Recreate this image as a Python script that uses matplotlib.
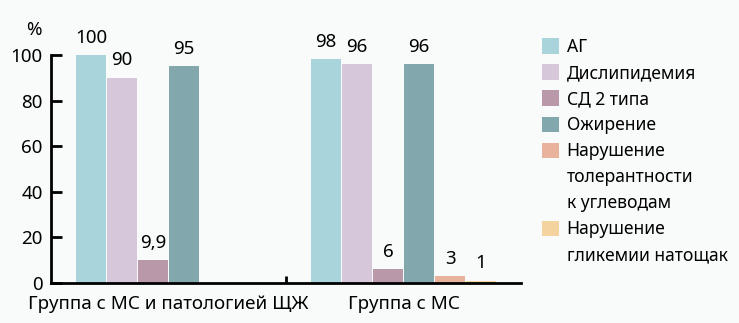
import numpy as np
import matplotlib.pyplot as plt
from matplotlib.ticker import FixedLocator
from matplotlib.patches import Rectangle

groups = ["Группа с МС и патологией ЩЖ", "Группа с МС"]
series = ["АГ", "Дислипидемия", "СД 2 типа", "Ожирение",
          "Нарушение\nтолерантности\nк углеводам", "Нарушение\nгликемии натощак"]
colors = ["#a9d4dc", "#d6c7db", "#b898a9", "#82a7ad", "#e8b29c", "#f5d39f"]
# rows = series, columns = groups (nan = no bar)
values = [
    [100, 98],
    [90, 96],
    [9.9, 6],
    [95, 96],
    [np.nan, 3],
    [np.nan, 1],
]

FS = 13.5
LFS = 12.6  # legend font size

plt.rcParams['font.family'] = ['Noto Sans', 'DejaVu Sans']
plt.rcParams['font.size'] = FS

fig = plt.figure(figsize=(7.39, 3.23), dpi=100)
fig.patch.set_facecolor('#f9fafa')
ax = fig.add_axes([0.069, 0.124, 0.636, 0.706])
ax.set_facecolor('none')

x = np.arange(len(groups))
step = 0.132
width = 0.124
for i, (name, vals, c) in enumerate(zip(series, values, colors)):
    off = (i - 2.5) * step
    bars = ax.bar(x + off, vals, width, color=c, label=name)
    labs = [("" if np.isnan(v) else f"{v:g}".replace(".", ",")) for v in vals]
    ax.bar_label(bars, labels=labs, padding=6, fontsize=FS, clip_on=False)

ax.set_xlim(-0.5, 1.5)
ax.set_ylim(0, 100)
ax.set_yticks([0, 20, 40, 60, 80, 100])
ax.set_xticks(x)
ax.set_xticklabels(groups)
ax.xaxis.set_minor_locator(FixedLocator([0.5]))
ax.tick_params(axis='x', which='major', length=0, pad=9)
ax.tick_params(axis='x', which='minor', direction='in', length=5, width=2)
ax.tick_params(axis='y', direction='in', length=8, width=2, pad=6)
for s in ['top', 'right']:
    ax.spines[s].set_visible(False)
for s in ['left', 'bottom']:
    ax.spines[s].set_linewidth(2)
ax.text(-0.02, 1.07, "%", transform=ax.transAxes, ha='right', va='bottom')

# legend: one row per text line, square only next to the first line
handles, labels = [], []
for name, c in zip(series, colors):
    for k, line in enumerate(name.split("\n")):
        handles.append(Rectangle((0, 0), 1, 1, facecolor=c if k == 0 else 'none',
                                 edgecolor='none'))
        labels.append(line)
leg = ax.legend(handles, labels, loc='upper left', bbox_to_anchor=(0.733, 0.882),
                bbox_transform=fig.transFigure, frameon=False, fontsize=LFS,
                handlelength=0.98, handleheight=0.98, handletextpad=0.45,
                labelspacing=0.46, borderaxespad=0, borderpad=0)

fig.savefig("out.png", dpi=100, facecolor=fig.get_facecolor())
